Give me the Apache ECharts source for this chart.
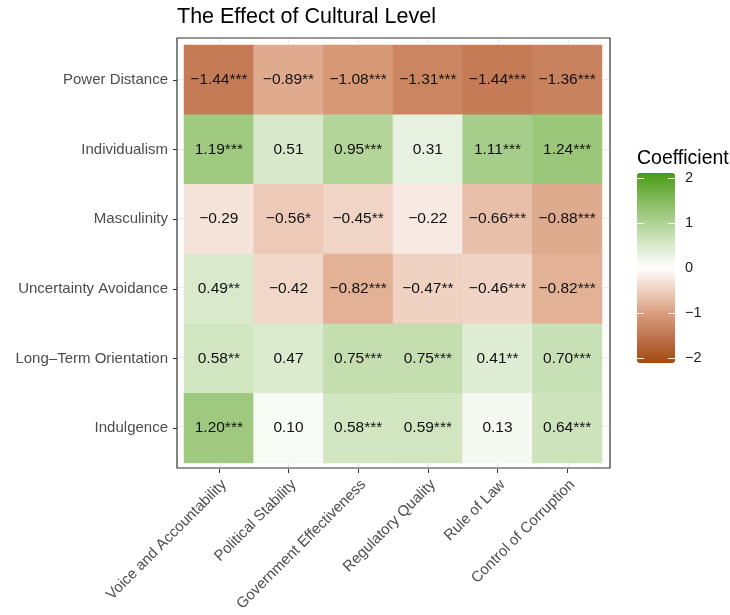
<!DOCTYPE html>
<html>
<head>
<meta charset="utf-8">
<script src="https://cdn.jsdelivr.net/npm/echarts@6/dist/echarts.min.js"></script>
<style>
html,body{margin:0;padding:0;background:#fff;}
#chart{width:730px;height:615px;}
</style>
</head>
<body>
<div id="chart"></div>
<script>
const xCategories = ['Voice and Accountability', 'Political Stability', 'Government Effectiveness', 'Regulatory Quality', 'Rule of Law', 'Control of Corruption'];
const yCategories = ['Power Distance', 'Individualism', 'Masculinity', 'Uncertainty Avoidance', 'Long\u2013Term Orientation', 'Indulgence'];

const powerDistance = [-1.44, -0.89, -1.08, -1.31, -1.44, -1.36];
const individualism = [1.19, 0.51, 0.95, 0.31, 1.11, 1.24];
const masculinity = [-0.29, -0.56, -0.45, -0.22, -0.66, -0.88];
const uncertaintyAvoidance = [0.49, -0.42, -0.82, -0.47, -0.46, -0.82];
const longTermOrientation = [0.58, 0.47, 0.75, 0.75, 0.41, 0.70];
const indulgence = [1.20, 0.10, 0.58, 0.59, 0.13, 0.64];

const powerDistanceStars = ['***', '**', '***', '***', '***', '***'];
const individualismStars = ['***', '', '***', '', '***', '***'];
const masculinityStars = ['', '*', '**', '', '***', '***'];
const uncertaintyAvoidanceStars = ['**', '', '***', '**', '***', '***'];
const longTermOrientationStars = ['**', '', '***', '***', '**', '***'];
const indulgenceStars = ['***', '', '***', '***', '', '***'];

const legendTicks = [-2, -1, 0, 1, 2];

const rows = [powerDistance, individualism, masculinity, uncertaintyAvoidance, longTermOrientation, indulgence];
const stars = [powerDistanceStars, individualismStars, masculinityStars, uncertaintyAvoidanceStars, longTermOrientationStars, indulgenceStars];

const data = [];
rows.forEach((row, yi) => {
  row.forEach((v, xi) => {
    data.push({ value: [xi, yi, v], star: stars[yi][xi] });
  });
});

const fmtNum = v => (v < 0 ? '\u2212' : '') + Math.abs(v).toFixed(2);
const FONT = 'Liberation Sans, Arial, Helvetica, sans-serif';
const gridLine = { show: true, showMinLine: false, showMaxLine: false, lineStyle: { color: '#ebebeb', width: 1 } };

const chart = echarts.init(document.getElementById('chart'), null, { renderer: 'canvas' });
chart.setOption({
  animation: false,
  backgroundColor: '#ffffff',
  textStyle: { fontFamily: FONT },
  title: {
    text: 'The Effect of Cultural Level',
    left: 172, top: 1,
    textStyle: { fontFamily: FONT, fontSize: 21.5, fontWeight: 'normal', color: '#000' }
  },
  grid: [
    { left: 177, top: 38, width: 433, height: 430, show: true, borderWidth: 0, backgroundColor: '#fff', z: 0 },
    { left: 184, top: 45, width: 418, height: 418 },
    { left: 637, top: 178, width: 38, height: 180 },
    { left: 177, top: 38, width: 433, height: 430, show: true, borderColor: '#333333', borderWidth: 1.2, backgroundColor: 'transparent', z: 6 }
  ],
  xAxis: [
    {
      gridIndex: 0, type: 'value', min: -0.6, max: 5.6, splitNumber: 6,
      axisLine: { show: false }, axisTick: { show: false }, axisLabel: { show: false },
      splitLine: gridLine
    },
    {
      gridIndex: 1, type: 'category', data: xCategories, offset: 6,
      axisLine: { show: false },
      axisTick: { show: true, length: 4, alignWithLabel: true, lineStyle: { color: '#333', width: 1 } },
      axisLabel: { rotate: 45, margin: 8, fontSize: 15, color: '#4d4d4d', fontFamily: FONT, interval: 0, verticalAlign: 'top' },
      splitLine: { show: false }
    },
    { gridIndex: 2, type: 'category', data: ['a'], show: false },
    { gridIndex: 3, type: 'category', data: ['a'], show: false }
  ],
  yAxis: [
    {
      gridIndex: 0, type: 'value', min: -0.6, max: 5.6, splitNumber: 6, inverse: true,
      axisLine: { show: false }, axisTick: { show: false }, axisLabel: { show: false },
      splitLine: gridLine
    },
    {
      gridIndex: 1, type: 'category', data: yCategories, inverse: true, offset: 7,
      axisLine: { show: false },
      axisTick: { show: true, length: 4, alignWithLabel: true, lineStyle: { color: '#333', width: 1 } },
      axisLabel: { margin: 9, fontSize: 15, color: '#4d4d4d', fontFamily: FONT },
      splitLine: { show: false }
    },
    {
      gridIndex: 2, type: 'value', min: -2, max: 2, interval: 1, position: 'left', z: 20,
      axisLine: { show: false }, splitLine: { show: false },
      axisTick: { show: true, inside: true, length: 7, lineStyle: { color: '#ffffff', width: 1 } },
      axisLabel: { show: false }
    },
    {
      gridIndex: 2, type: 'value', min: -2, max: 2, interval: 1, position: 'right', z: 20,
      axisLine: { show: false }, splitLine: { show: false },
      axisTick: { show: true, inside: true, length: 7, lineStyle: { color: '#ffffff', width: 1 } },
      axisLabel: {
        show: true, margin: 10, fontSize: 14.5, color: '#1a1a1a', fontFamily: FONT,
        formatter: v => legendTicks.includes(v) ? String(v).replace('-', '\u2212') : ''
      }
    },
    { gridIndex: 3, type: 'category', data: ['a'], show: false }
  ],
  visualMap: {
    type: 'continuous',
    min: -2.11, max: 2.11,
    seriesIndex: 0,
    calculable: false,
    orient: 'vertical',
    left: 637, top: 173,
    itemWidth: 38, itemHeight: 190,
    padding: 0,
    z: 4,
    text: null,
    inRange: {
      color: ['#a04a0e', '#bd7049', '#d89a78', '#eecdbb', '#ffffff', '#d6e8c8', '#abd08f', '#7db756', '#4a9a14']
    }
  },
  graphic: [
    {
      type: 'text', left: 637, top: 149,
      style: { text: 'Coefficient', fontSize: 19.5, fontFamily: FONT, fill: '#000' }
    }
  ],
  series: [
    {
      type: 'heatmap',
      xAxisIndex: 1, yAxisIndex: 1,
      data: data,
      label: {
        show: true,
        fontSize: 15.5,
        color: '#111',
        fontFamily: FONT,
        formatter: p => fmtNum(p.data.value[2]) + p.data.star
      },
      itemStyle: { borderWidth: 0 },
      emphasis: { disabled: true }
    },
    {
      type: 'line', xAxisIndex: 2, yAxisIndex: 2, data: [], silent: true
    }
  ]
});
</script>
</body>
</html>
